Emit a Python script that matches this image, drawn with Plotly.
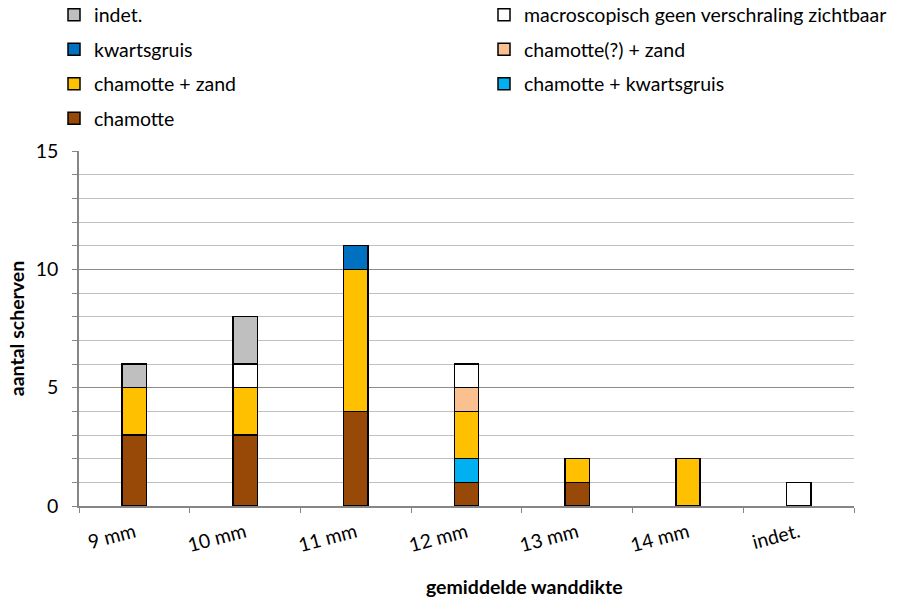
import plotly.graph_objects as go

categories = ["9 mm", "10 mm", "11 mm", "12 mm", "13 mm", "14 mm", "indet."]

chamotte = [3, 3, 4, 1, 1, 0, 0]
chamotte_kwartsgruis = [0, 0, 0, 1, 0, 0, 0]
chamotte_zand = [2, 2, 6, 2, 1, 2, 0]
chamotte_q_zand = [0, 0, 0, 1, 0, 0, 0]
kwartsgruis = [0, 0, 1, 0, 0, 0, 0]
macroscopisch = [0, 1, 0, 1, 0, 0, 1]
indet = [1, 2, 0, 0, 0, 0, 0]

series_names = ["chamotte", "chamotte + kwartsgruis", "chamotte + zand",
                "chamotte(?) + zand", "kwartsgruis",
                "macroscopisch geen verschraling zichtbaar", "indet."]
series_values = [chamotte, chamotte_kwartsgruis, chamotte_zand,
                 chamotte_q_zand, kwartsgruis, macroscopisch, indet]
series_colors = ["#984807", "#00B0F0", "#FFC000", "#FAC090", "#0070C0",
                 "#FFFFFF", "#BFBFBF"]

# legend slot (column, row) for each series, in the two-column layout
legend_slots = [(0, 3), (1, 2), (0, 2), (1, 1), (0, 1), (1, 0), (0, 0)]

W, H = 902, 600
ML, MR, MT, MB = 79, 48, 151, 94
FONT = "Lato, 'Open Sans', sans-serif"
col_x = [54, 484]               # px, left edge of legend entry box
row_y = [15, 49.5, 84, 118.5]   # px, centre of legend row

fig = go.Figure()
layout_legends = {}
for i, (name, vals, col) in enumerate(zip(series_names, series_values, series_colors)):
    lid = "legend" if i == 0 else f"legend{i + 1}"
    fig.add_trace(go.Bar(
        x=categories, y=vals, name=name, legend=lid, showlegend=True,
        marker=dict(color=col, line=dict(color="#000000", width=1.5)),
    ))
    c, r = legend_slots[i]
    layout_legends[lid] = dict(
        visible=True,
        orientation="h",
        xref="container", yref="container",
        x=col_x[c] / W, xanchor="left",
        y=1 - row_y[r] / H, yanchor="middle",
        font=dict(size=19.5, family=FONT, color="#000000"),
        bgcolor="rgba(0,0,0,0)", borderwidth=0,
    )

plot_w = W - ML - MR
plot_h = H - MT - MB
xtitle_cx = 524   # px, centre of x-axis title in the reference
xtitle_cy = 586

fig.update_layout(
    barmode="stack",
    bargap=0.78,
    showlegend=True,
    width=W, height=H,
    paper_bgcolor="white", plot_bgcolor="white",
    margin=dict(l=ML, r=MR, t=MT, b=MB, autoexpand=False),
    font=dict(family=FONT, size=19.5, color="#000000"),
    xaxis=dict(
        tickangle=-15,
        tickson="boundaries", ticks="outside", ticklen=5, tickcolor="#868686",
        showline=True, linecolor="#868686", linewidth=1.5,
        showgrid=False,
        ticklabelstandoff=6,
        tickfont=dict(size=19.5),
        automargin=False,
    ),
    yaxis=dict(
        range=[0, 15], dtick=5, tick0=0,
        ticks="outside", ticklen=5, tickcolor="#868686",
        showline=True, linecolor="#868686", linewidth=1.5,
        showgrid=True, gridcolor="#8c8c8c", gridwidth=1,
        zeroline=False,
        ticklabelstandoff=10,
        minor=dict(dtick=1, showgrid=True, gridcolor="#c0c0c0", gridwidth=1,
                   ticks="outside", ticklen=5, tickcolor="#868686"),
        title=dict(text="<b>aantal scherven</b>", font=dict(size=19.5), standoff=6),
        tickfont=dict(size=19.5),
        automargin=False,
    ),
    annotations=[dict(
        text="<b>gemiddelde wanddikte</b>",
        xref="paper", yref="paper",
        x=(xtitle_cx - ML) / plot_w, y=-(xtitle_cy - (H - MB)) / plot_h,
        xanchor="center", yanchor="middle", showarrow=False,
        font=dict(size=19.5, family=FONT, color="#000000"),
    )],
    **layout_legends,
)

fig.write_html(
    "out.html",
    config={"displayModeBar": False},
    post_script="document.body.style.margin='0';document.body.style.padding='0';",
)
